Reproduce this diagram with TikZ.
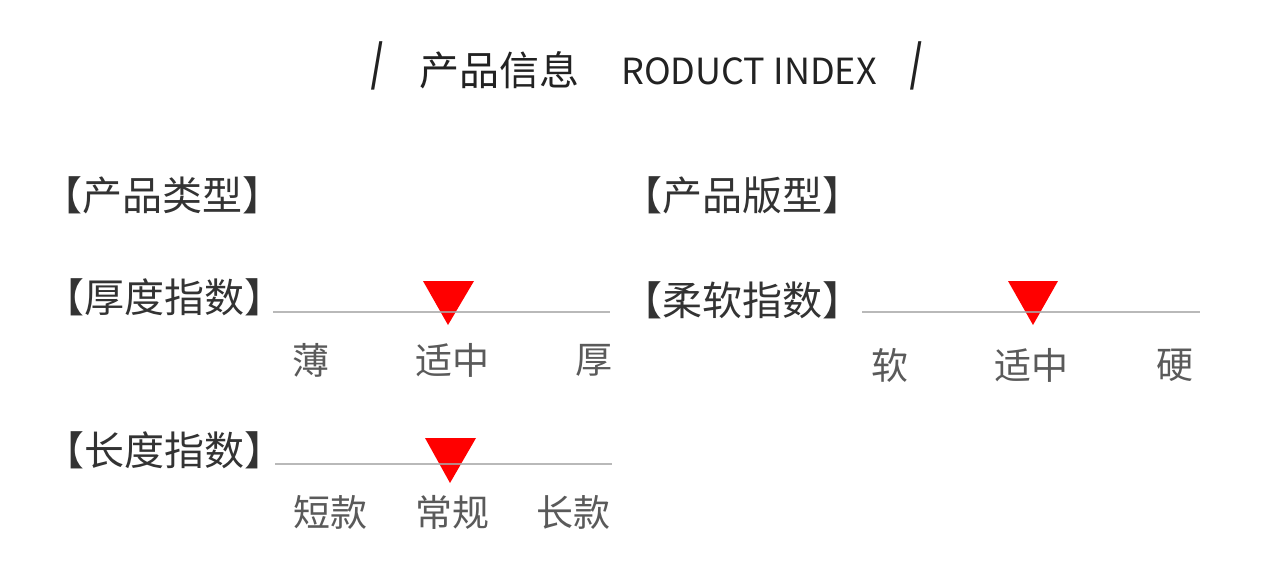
\documentclass[tikz,border=0pt]{standalone}
\usepackage{fontspec}
\usepackage{graphicx}
\setmainfont{Noto Sans CJK SC}
\newfontfamily\slashfont{Liberation Sans}
\definecolor{txtdark}{HTML}{222222}
\definecolor{txtlabel}{HTML}{333333}
\definecolor{txtsub}{HTML}{5a5a5a}
\definecolor{barline}{HTML}{a8a8a8}
\definecolor{markred}{HTML}{FF0000}
\tikzset{
  titlecn/.style={inner sep=0pt, text=txtdark, font=\fontsize{40}{40}\selectfont},
  titleen/.style={inner sep=0pt, text=txtdark, font=\fontsize{36}{36}\selectfont},
  slashtxt/.style={inner sep=0pt, text=txtdark, font=\slashfont\fontsize{66}{66}\selectfont},
  seclabel/.style={inner sep=0pt, text=txtlabel, font=\fontsize{40}{40}\selectfont},
  sublabel/.style={inner sep=0pt, text=txtsub, font=\fontsize{37}{37}\selectfont},
  bar/.style={draw=barline, line width=2.2pt, opacity=0.8},
  marker/.style={fill=markred, draw=none},
}
\begin{document}
\begin{tikzpicture}[x=1pt,y=-1pt]
\useasboundingbox[fill=white] (0,0) rectangle (1280,570);

% title
\node[slashtxt] (s1) at (377,66) {\scalebox{0.62}[1]{/}};
\node[titlecn] (t1) at (499,70) {产品信息};
\node[titleen] (t2) at (749,71) {RODUCT INDEX};
\node[slashtxt] (s2) at (916,66) {\scalebox{0.62}[1]{/}};

% section labels
\node[seclabel] (l1) at (162,195) {【产品类型】};
\node[seclabel] (l2) at (742,195) {【产品版型】};
\node[seclabel] (l3) at (164,297) {【厚度指数】};
\node[seclabel] (l4) at (742,300) {【柔软指数】};
\node[seclabel] (l5) at (164,450) {【长度指数】};

% slider 1
\coordinate (a1) at (273,312);
\coordinate (b1) at (610,312);
\fill[marker] (423,281) -- (474,281) -- (448,325) -- cycle;
\draw[bar] (a1) -- (b1);
\node[sublabel] (p1) at (311,360) {薄};
\node[sublabel] (q1) at (452,360) {适中};
\node[sublabel] (r1) at (594,360) {厚};

% slider 2
\coordinate (a2) at (862,312);
\coordinate (b2) at (1200,312);
\fill[marker] (1008,281) -- (1058,281) -- (1033,325) -- cycle;
\draw[bar] (a2) -- (b2);
\node[sublabel] (p2) at (890,365) {软};
\node[sublabel] (q2) at (1031,365) {适中};
\node[sublabel] (r2) at (1175,365) {硬};

% slider 3
\coordinate (a3) at (275,464);
\coordinate (b3) at (612,464);
\fill[marker] (425,438) -- (476,438) -- (450,483) -- cycle;
\draw[bar] (a3) -- (b3);
\node[sublabel] (p3) at (330,512) {短款};
\node[sublabel] (q3) at (452,512) {常规};
\node[sublabel] (r3) at (573,512) {长款};
\end{tikzpicture}
\end{document}
